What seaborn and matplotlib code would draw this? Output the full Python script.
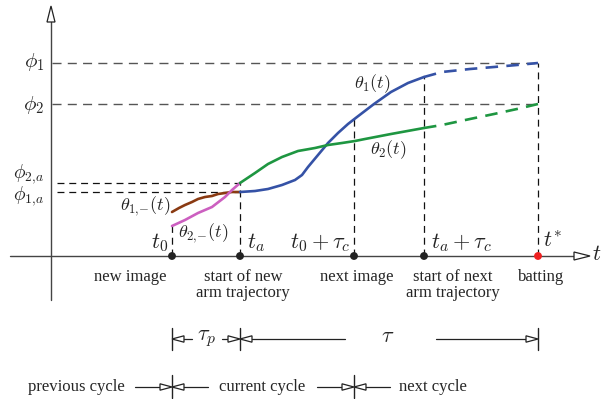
import numpy as np
import pandas as pd
import matplotlib
matplotlib.use("Agg")
import matplotlib.pyplot as plt
import seaborn as sns
from matplotlib.patches import Polygon

sns.set_theme(style="white")
plt.rcParams["font.family"] = ["Liberation Serif", "DejaVu Serif"]
plt.rcParams["mathtext.fontset"] = "cm"
plt.rcParams["lines.scale_dashes"] = False

# ---- timeline events (time axis units) ----
event_labels = ["t0", "ta", "t0+tc", "ta+tc", "t*"]
event_times = [172, 240, 354, 424, 538]

# ---- angle levels (angle axis units, 0 on the time axis) ----
phi_1 = 193
phi_2 = 152
phi_2a = 73
phi_1a = 64

# ---- joint trajectories ----
theta1_prev_t = [172, 179, 185, 192, 198, 205, 212, 218, 225, 232, 240]
theta1_prev = [44, 48, 51, 54, 57, 59, 60, 62, 63, 64, 64]

theta2_prev_t = [172, 185, 198, 212, 225, 232, 240]
theta2_prev = [30, 36, 43, 49, 59, 66, 73]

theta1_t = [240, 255, 268, 282, 295, 302, 308, 318, 328, 338, 348, 357,
            374, 391, 408, 424]
theta1 = [64, 65, 67, 71, 76, 81, 89, 101, 113, 123, 132, 139,
          152, 164, 173, 179]
theta1_plan_t = [424, 442, 470, 494, 517, 538]
theta1_plan = [179, 184, 187, 189, 191, 193]

theta2_t = [240, 255, 268, 282, 298, 315, 328, 342, 355, 365, 391, 424]
theta2 = [73, 83, 92, 99, 105, 108, 111, 113, 115, 117, 122, 128]
theta2_plan_t = [424, 442, 470, 494, 517, 538]
theta2_plan = [128, 131, 137, 142, 147, 152]

below_labels = ["new image", ["start of new", "arm trajectory"], "next image",
                ["start of next", "arm trajectory"], "batting"]

BLUE = "#3552a6"
GREEN = "#1e9641"
BROWN = "#8a3a12"
MAGENTA = "#cc5fc0"
AX = "#444444"

fig = plt.figure(figsize=(6.03, 3.99), dpi=100)
ax = fig.add_axes([0, 0, 1, 1])
ax.set_xlim(0, 603)
ax.set_ylim(-143, 256)
ax.axis("off")


def open_head(x, y, direction, length=13, half=3.5, lw=0.9):
    """Open triangular arrow head with its tip at (x, y)."""
    if direction == "right":
        pts = [(x, y), (x - length, y + half), (x - length, y - half)]
    elif direction == "left":
        pts = [(x, y), (x + length, y + half), (x + length, y - half)]
    else:  # up
        pts = [(x, y), (x - half, y - length), (x + half, y - length)]
    ax.add_patch(Polygon(pts, closed=True, facecolor="white",
                         edgecolor="#222222", lw=lw, zorder=5))


# ---- axes of the diagram ----
ax.plot([51, 51], [-44, 234], color=AX, lw=1.0, zorder=2)
open_head(51, 250, "up", length=16, half=4)
ax.plot([10, 574], [0, 0], color=AX, lw=1.0, zorder=2)
open_head(590, 0, "right", length=16, half=4)

# ---- dashed guide lines ----
guide_grey = dict(color="#555555", lw=1.0, linestyle=(0, (6.5, 4.5)), zorder=1)
guide_black = dict(color="#111111", lw=0.9, linestyle=(0, (5, 3.5)), zorder=1)
ax.plot([52, event_times[4]], [phi_1, phi_1], **guide_grey)
ax.plot([52, event_times[4]], [phi_2, phi_2], **guide_grey)
ax.plot([57, event_times[1]], [phi_2a, phi_2a], **guide_black)
ax.plot([57, event_times[1]], [phi_1a, phi_1a], **guide_black)
ax.plot([event_times[0]] * 2, [0, theta2_prev[0]], **guide_black)
ax.plot([event_times[1]] * 2, [0, phi_2a], **guide_black)
ax.plot([event_times[2]] * 2, [0, 138], **guide_black)
ax.plot([event_times[3]] * 2, [0, theta1[-1]], **guide_black)
ax.plot([event_times[4]] * 2, [0, phi_1], **guide_black)

# ---- trajectories ----
curves = [
    (theta1_prev_t, theta1_prev, BROWN, "-"),
    (theta2_prev_t, theta2_prev, MAGENTA, "-"),
    (theta1_t, theta1, BLUE, "-"),
    (theta2_t, theta2, GREEN, "-"),
    (theta1_plan_t, theta1_plan, BLUE, (0, (9, 6))),
    (theta2_plan_t, theta2_plan, GREEN, (0, (9, 6))),
]
for tx, ty, col, ls in curves:
    df = pd.DataFrame({"t": tx, "angle": ty})
    sns.lineplot(data=df, x="t", y="angle", sort=False, estimator=None,
                 color=col, linewidth=1.9, linestyle=ls, ax=ax, zorder=3)

# ---- event markers ----
ev = pd.DataFrame({"t": event_times, "y": [0] * 5,
                   "kind": ["e", "e", "e", "e", "bat"]})
sns.scatterplot(data=ev, x="t", y="y", hue="kind",
                palette={"e": "#222222", "bat": "#ee2020"},
                s=32, edgecolor="none", legend=False, ax=ax, zorder=6)

# ---- math labels ----
MS = 15
ax.text(44, 194, r"$\phi_1$", fontsize=MS, ha="right", va="center")
ax.text(44, 151, r"$\phi_2$", fontsize=MS, ha="right", va="center")
ax.text(44, 82, r"$\phi_{2,\!a}$", fontsize=14, ha="right", va="center")
ax.text(44, 60, r"$\phi_{1,\!a}$", fontsize=14, ha="right", va="center")
ax.text(170, 50, r"$\theta_{1,\!{-}}(t)$", fontsize=13, ha="right", va="center")
ax.text(178, 23, r"$\theta_{2,\!{-}}(t)$", fontsize=13, ha="left", va="center")
ax.text(372, 172, r"$\theta_1(t)$", fontsize=13, ha="center", va="center")
ax.text(388, 106, r"$\theta_2(t)$", fontsize=13, ha="center", va="center")

TS = 16
ax.text(168, 8, r"$t_0$", fontsize=TS, ha="right", va="baseline")
ax.text(247, 8, r"$t_a$", fontsize=TS, ha="left", va="baseline")
ax.text(351, 8, r"$t_0+\tau_c$", fontsize=TS, ha="right", va="baseline")
ax.text(431, 8, r"$t_a+\tau_c$", fontsize=TS, ha="left", va="baseline")
ax.text(543, 9, r"$t^{*}$", fontsize=TS, ha="left", va="baseline")
ax.text(592, 0, r"$t$", fontsize=TS, ha="left", va="center")

# ---- event descriptions ----
FS = 12
for t, lab in zip(event_times, below_labels):
    xc = t - 42 if lab == "new image" else t + (29 if t == 424 else 3)
    if isinstance(lab, list):
        ax.text(xc, -21, lab[0], fontsize=FS, ha="center", va="center")
        ax.text(xc, -37, lab[1], fontsize=FS, ha="center", va="center")
    else:
        ax.text(xc, -21, lab, fontsize=FS, ha="center", va="center")

# ---- interval row: tau_p and tau ----
yi = -83
for t in (event_times[0], event_times[1], event_times[4]):
    ax.plot([t, t], [yi + 11, yi - 11], color="#222222", lw=1.0)
seg = dict(color="#222222", lw=0.9)
ax.plot([event_times[0] + 12, 192], [yi, yi], **seg)
open_head(event_times[0], yi, "left", length=12, half=3.2)
ax.text(207, yi, r"$\tau_p$", fontsize=TS, ha="center", va="center")
ax.plot([222, event_times[1] - 12], [yi, yi], **seg)
open_head(event_times[1], yi, "right", length=12, half=3.2)
ax.plot([event_times[1] + 12, 345], [yi, yi], **seg)
open_head(event_times[1], yi, "left", length=12, half=3.2)
ax.text(388, yi + 1, r"$\tau$", fontsize=TS, ha="center", va="center")
ax.plot([436, event_times[4] - 12], [yi, yi], **seg)
open_head(event_times[4], yi, "right", length=12, half=3.2)

# ---- cycle row ----
yc = -131
for t in (event_times[0], event_times[2]):
    ax.plot([t, t], [yc + 12, yc - 11], color="#222222", lw=1.0)
    ax.plot([t - 37, t - 12], [yc, yc], **seg)
    open_head(t, yc, "right", length=12, half=3.2)
    ax.plot([t + 12, t + 36], [yc, yc], **seg)
    open_head(t, yc, "left", length=12, half=3.2)
ax.text(76, yc, "previous cycle", fontsize=FS, ha="center", va="center")
ax.text(262, yc, "current cycle", fontsize=FS, ha="center", va="center")
ax.text(433, yc, "next cycle", fontsize=FS, ha="center", va="center")

fig.savefig("out.png", dpi=100, facecolor="white")
